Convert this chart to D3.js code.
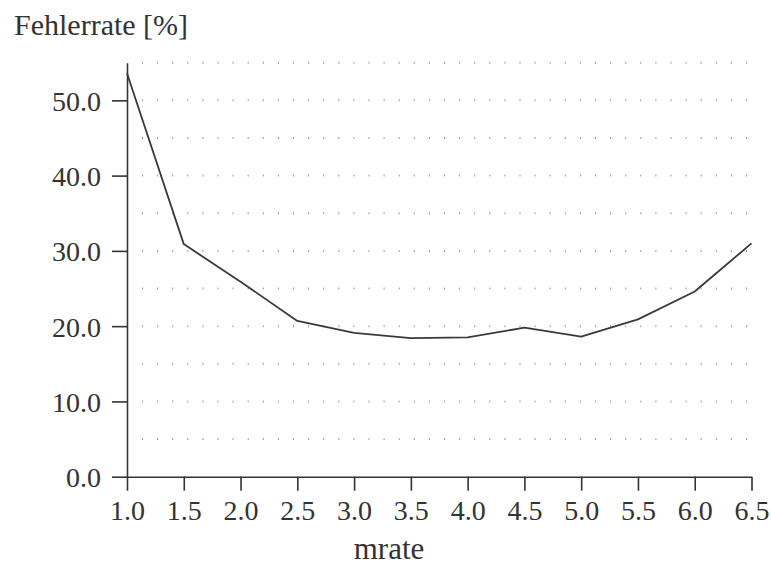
<!DOCTYPE html>
<html lang="de">
<head>
    <meta charset="UTF-8">
    <title>Fehlerrate</title>
    <style>
        body { margin: 0; background: #fff; }
        text { font-family: "Liberation Serif", "Times New Roman", serif; fill: #333; }
    </style>
</head>
<body>
<script src="https://d3js.org/d3.v7.min.js"></script>
<script>
    // values
    const mrate = [1.0, 1.5, 2.0, 2.5, 3.0, 3.5, 4.0, 4.5, 5.0, 5.5, 6.0, 6.5];
    const fehlerrate = [53.6, 30.9, 25.9, 20.7, 19.1, 18.4, 18.5, 19.8, 18.6, 20.9, 24.6, 31.0];
    const xTicks = [1.0, 1.5, 2.0, 2.5, 3.0, 3.5, 4.0, 4.5, 5.0, 5.5, 6.0, 6.5];
    const yTicks = [0, 10, 20, 30, 40, 50];
    const gridLevels = [5, 10, 15, 20, 25, 30, 35, 40, 45, 50, 55];

    const width = 771;
    const height = 565;

    const svg = d3.select("body")
        .append("svg")
        .attr("width", width)
        .attr("height", height);

    const x = d3.scaleLinear()
        .domain([1.0, 6.5])
        .range([127, 751.5]);

    const y = d3.scaleLinear()
        .domain([0, 55])
        .range([476.7, 62.7]);

    // dotted grid lines
    svg.append("g")
        .selectAll("line")
        .data(gridLevels)
        .join("line")
        .attr("x1", x(1.0) + 15)
        .attr("x2", x(6.5))
        .attr("y1", d => y(d))
        .attr("y2", d => y(d))
        .attr("stroke", "#9a9a9a")
        .attr("stroke-width", 2)
        .attr("stroke-dasharray", "1 14.1");

    // x axis
    const xAxis = svg.append("g")
        .attr("transform", `translate(0,${y(0)})`)
        .call(d3.axisBottom(x)
            .tickValues(xTicks)
            .tickFormat(d3.format(".1f"))
            .tickSize(14)
            .tickSizeOuter(0)
            .tickPadding(9));

    // y axis
    const yAxis = svg.append("g")
        .attr("transform", `translate(${x(1.0)},0)`)
        .call(d3.axisLeft(y)
            .tickValues(yTicks)
            .tickFormat(d3.format(".1f"))
            .tickSize(15)
            .tickSizeOuter(0)
            .tickPadding(11));

    [xAxis, yAxis].forEach(a => {
        a.selectAll("path, line").attr("stroke", "#333").attr("stroke-width", 1.6);
        a.selectAll("text")
            .attr("fill", "#333")
            .style("font-family", '"Liberation Serif", serif')
            .style("font-size", "28px");
    });
    yAxis.selectAll("text").attr("dy", "0.36em");

    // the curve
    svg.append("path")
        .datum(mrate.map((m, i) => ({x: m, y: fehlerrate[i]})))
        .attr("fill", "none")
        .attr("stroke", "#3a3a3a")
        .attr("stroke-width", 1.8)
        .attr("stroke-linejoin", "round")
        .attr("d", d3.line()
            .x(d => x(d.x))
            .y(d => y(d.y)));

    // labels
    svg.append("text")
        .attr("x", 14)
        .attr("y", 35)
        .style("font-size", "30px")
        .text("Fehlerrate [%]");

    svg.append("text")
        .attr("x", 389)
        .attr("y", 559)
        .attr("text-anchor", "middle")
        .style("font-size", "31px")
        .text("mrate");
</script>
</body>
</html>
